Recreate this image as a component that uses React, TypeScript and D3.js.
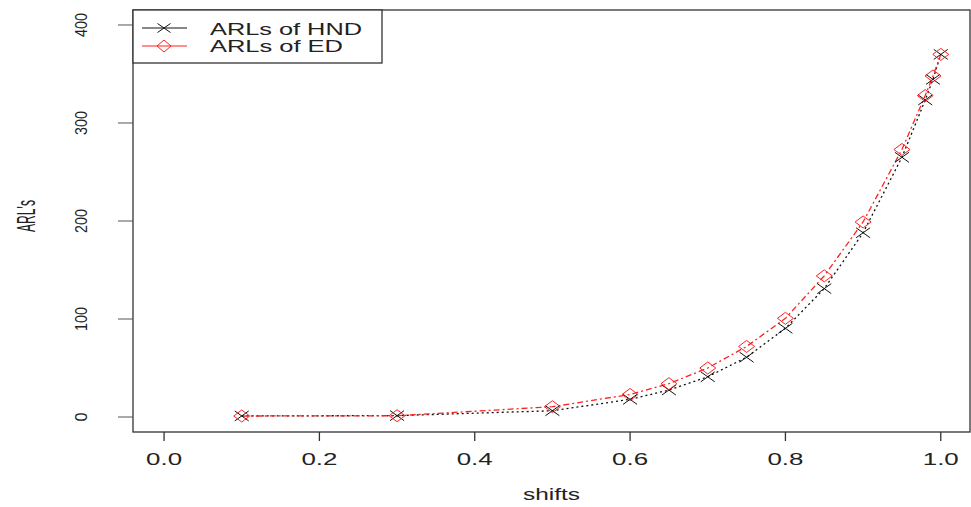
import React from "react";
import * as d3 from "d3";

// Shift sizes and the average run lengths of the two charts
const shifts = [0.1, 0.3, 0.5, 0.6, 0.65, 0.7, 0.75, 0.8, 0.85, 0.9, 0.95, 0.98, 0.99, 1.0];
const arlHND = [1.1, 1.4, 6.4, 18, 27.5, 41, 61, 90.5, 131, 188, 265, 323.5, 344.5, 370];
const arlED = [1.0, 1.3, 10.5, 23, 34, 50, 72, 100.7, 144, 199, 273, 328, 348, 370];

const xTicks = [0, 0.2, 0.4, 0.6, 0.8, 1.0];
const yTicks = [0, 100, 200, 300, 400];
const seriesNames = ["ARLs of HND", "ARLs of ED"];

const W = 971;
const H = 507;
const box = { left: 133, right: 970, top: 10, bottom: 432 };

const x = d3.scaleLinear().domain([-0.04, 1.04]).range([box.left, box.left + (1.08 * 776.7)]);
const y = d3.scaleLinear().domain([-15.3, 415.3]).range([box.bottom, box.top]);

const FONT = "'Liberation Sans', Arial, sans-serif";

function Cross({ cx, cy, hw, hh }: { cx: number; cy: number; hw: number; hh: number }) {
  return (
    <path
      d={`M${cx - hw},${cy - hh}L${cx + hw},${cy + hh}M${cx - hw},${cy + hh}L${cx + hw},${cy - hh}`}
      stroke="#111"
      strokeWidth={1}
      fill="none"
    />
  );
}

function Diamond({ cx, cy, hw, hh }: { cx: number; cy: number; hw: number; hh: number }) {
  return (
    <path
      d={`M${cx - hw},${cy}L${cx},${cy - hh}L${cx + hw},${cy}L${cx},${cy + hh}Z`}
      stroke="#ff2020"
      strokeWidth={1}
      fill="none"
    />
  );
}

export default function App() {
  const line = d3
    .line<number>()
    .x((_, i) => x(shifts[i]))
    .y((d) => y(d));

  const tickLen = (s: string) => (s.length === 1 ? 9 : 24);

  return (
    <svg
      width={W}
      height={H}
      style={{ position: "absolute", left: 0, top: 0, background: "#fff" }}
      fontFamily={FONT}
    >
      {/* plot frame */}
      <rect
        x={box.left}
        y={box.top}
        width={box.right - box.left}
        height={box.bottom - box.top}
        fill="none"
        stroke="#333"
        strokeWidth={1.3}
      />

      {/* x axis */}
      {xTicks.map((t) => (
        <g key={`x${t}`}>
          <line x1={x(t)} x2={x(t)} y1={box.bottom} y2={box.bottom + 9} stroke="#333" strokeWidth={1.3} />
          <text
            x={x(t)}
            y={465}
            textAnchor="middle"
            fontSize={16}
            fill="#222"
            textLength={36}
            lengthAdjust="spacingAndGlyphs"
          >
            {t.toFixed(1)}
          </text>
        </g>
      ))}
      <text x={(box.left + box.right) / 2} y={500} textAnchor="middle" fontSize={16} fill="#222" textLength={57} lengthAdjust="spacingAndGlyphs">
        shifts
      </text>

      {/* y axis */}
      {yTicks.map((t) => (
        <g key={`y${t}`}>
          <line x1={box.left - 15} x2={box.left} y1={y(t)} y2={y(t)} stroke="#555" strokeWidth={1} />
          <text
            transform={`translate(87,${y(t)}) rotate(-90) scale(1,1.15)`}
            textAnchor="middle"
            fontSize={14}
            fill="#222"
            textLength={tickLen(String(t))}
            lengthAdjust="spacingAndGlyphs"
          >
            {t}
          </text>
        </g>
      ))}
      <text
        transform={`translate(35,216) rotate(-90) scale(1,1.8)`}
        textAnchor="middle"
        fontSize={14}
        fill="#222"
        textLength={32}
        lengthAdjust="spacingAndGlyphs"
      >
        ARL's
      </text>

      {/* series lines */}
      <path d={line(arlHND) ?? ""} fill="none" stroke="#111" strokeWidth={1.3} strokeDasharray="2,3" />
      <path d={line(arlED) ?? ""} fill="none" stroke="#ff2020" strokeWidth={1.3} strokeDasharray="6,3,2,3" />

      {/* markers */}
      {arlHND.map((v, i) => (
        <Cross key={`h${i}`} cx={x(shifts[i])} cy={y(v)} hw={7} hh={5} />
      ))}
      {arlED.map((v, i) => (
        <Diamond key={`e${i}`} cx={x(shifts[i])} cy={y(v)} hw={8} hh={6} />
      ))}

      {/* legend */}
      <rect x={box.left} y={box.top} width={382 - box.left} height={63 - box.top} fill="#fff" stroke="#333" strokeWidth={1.3} />
      <line x1={142} x2={187} y1={28} y2={28} stroke="#111" strokeWidth={1} />
      <Cross cx={164} cy={28} hw={6.5} hh={4.5} />
      <line x1={142} x2={187} y1={46} y2={46} stroke="#ff2020" strokeWidth={1} />
      <Diamond cx={164} cy={46} hw={7} hh={6} />
      <text x={210} y={35} fontSize={16} fill="#222" textLength={152} lengthAdjust="spacingAndGlyphs">
        {seriesNames[0]}
      </text>
      <text x={210} y={52} fontSize={16} fill="#222" textLength={133} lengthAdjust="spacingAndGlyphs">
        {seriesNames[1]}
      </text>
    </svg>
  );
}
